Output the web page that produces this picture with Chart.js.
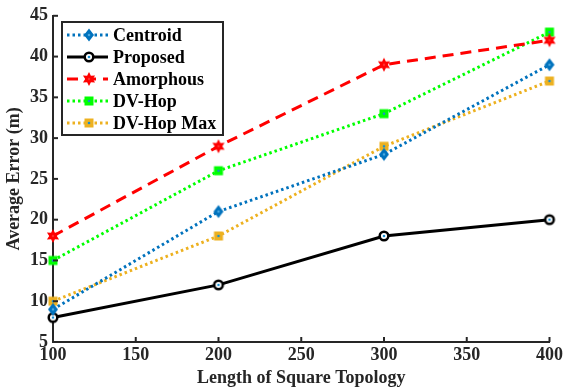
<!DOCTYPE html>
<html><head><meta charset="utf-8">
<script src="https://cdn.jsdelivr.net/npm/chart.js@4"></script>
<style>html,body{margin:0;padding:0;background:#fff}#wrap{width:566px;height:389px}</style>
</head><body><div id="wrap"><canvas id="c" width="566" height="389"></canvas></div>
<script>
const topology = [100, 200, 300, 400];
const centroid = [9, 21, 28, 39];
const proposed = [8, 12, 18, 20];
const amorphous = [18, 29, 39, 42];
const dvHop = [15, 26, 33, 43];
const dvHopMax = [10, 18, 29, 37];
const seriesNames = ['Centroid', 'Proposed', 'Amorphous', 'DV-Hop', 'DV-Hop Max'];
const xTitle = 'Length of Square Topology';
const yTitle = 'Average Error (m)';

const FONT = '"Liberation Serif", "Times New Roman", serif';
const DOT = '#1a8fd0';

function mk(size, draw) {
  const c = document.createElement('canvas');
  c.width = size; c.height = size;
  const g = c.getContext('2d');
  draw(g, size / 2);
  return c;
}
function dot(g, m) { g.fillStyle = DOT; g.beginPath(); g.arc(m, m, 1.3, 0, Math.PI * 2); g.fill(); }
const mDiamond = mk(16, (g, m) => {
  g.fillStyle = '#0072BD'; g.beginPath();
  g.moveTo(m, m - 6.5); g.lineTo(m + 5, m); g.lineTo(m, m + 6.5); g.lineTo(m - 5, m); g.closePath(); g.fill();
  g.fillStyle = '#4aa8e0'; g.beginPath(); g.arc(m, m, 1.3, 0, Math.PI * 2); g.fill();
});
const mCircle = mk(14, (g, m) => {
  g.fillStyle = '#fff'; g.strokeStyle = '#000'; g.lineWidth = 2.5;
  g.beginPath(); g.arc(m, m, 4.3, 0, Math.PI * 2); g.fill(); g.stroke(); dot(g, m);
});
const mStar = mk(18, (g, m) => {
  g.fillStyle = '#FF0000'; g.beginPath();
  for (let i = 0; i < 12; i++) {
    const r = i % 2 === 0 ? 7 : 3.8;
    const a = -Math.PI / 2 + i * Math.PI / 6;
    const x = m + r * Math.cos(a), y = m + r * Math.sin(a);
    i === 0 ? g.moveTo(x, y) : g.lineTo(x, y);
  }
  g.closePath(); g.fill();
  g.fillStyle = '#ff3030'; g.beginPath(); g.arc(m, m, 1.2, 0, Math.PI * 2); g.fill();
});
const mSqG = mk(14, (g, m) => { g.fillStyle = '#00FF00'; g.fillRect(m - 4.5, m - 4.5, 9, 9); dot(g, m); });
const mSqO = mk(14, (g, m) => { g.fillStyle = '#EDB120'; g.fillRect(m - 4.5, m - 4.5, 9, 9); dot(g, m); });

const styles = [
  { color: '#0072BD', dash: [2.5, 3], width: 3, marker: mDiamond },
  { color: '#000000', dash: [], width: 3, marker: mCircle },
  { color: '#FF0000', dash: [11, 7], width: 3, marker: mStar },
  { color: '#00FF00', dash: [2.5, 3], width: 3, marker: mSqG },
  { color: '#EDB120', dash: [2.5, 3], width: 3, marker: mSqO },
];
const values = [centroid, proposed, amorphous, dvHop, dvHopMax];

const datasets = values.map((v, i) => ({
  label: seriesNames[i],
  data: v.map((y, j) => ({ x: topology[j], y })),
  borderColor: styles[i].color,
  borderWidth: styles[i].width,
  borderDash: styles[i].dash,
  borderCapStyle: 'butt',
  pointStyle: styles[i].marker,
  pointRadius: 6,
  fill: false,
  tension: 0,
  clip: false,
}));

const inwardTicks = {
  id: 'inwardTicks',
  afterDraw(chart) {
    const ctx = chart.ctx, xs = chart.scales.x, ys = chart.scales.y, a = chart.chartArea;
    ctx.save(); ctx.strokeStyle = '#262626'; ctx.lineWidth = 2;
    xs.ticks.forEach(t => { const p = xs.getPixelForValue(t.value); ctx.beginPath(); ctx.moveTo(p, a.bottom); ctx.lineTo(p, a.bottom - 5); ctx.stroke(); });
    ys.ticks.forEach(t => { const p = ys.getPixelForValue(t.value); ctx.beginPath(); ctx.moveTo(a.left, p); ctx.lineTo(a.left + 5, p); ctx.stroke(); });
    ctx.restore();
  }
};

const customLegend = {
  id: 'customLegend',
  afterDraw(chart) {
    const ctx = chart.ctx;
    const bx = 62, by = 22, bw = 161, bh = 113;
    ctx.save();
    ctx.fillStyle = '#fff'; ctx.fillRect(bx, by, bw, bh);
    ctx.strokeStyle = '#262626'; ctx.lineWidth = 2; ctx.strokeRect(bx, by, bw, bh);
    chart.data.datasets.forEach((ds, i) => {
      const y = 35 + i * 22;
      ctx.strokeStyle = ds.borderColor; ctx.lineWidth = ds.borderWidth;
      ctx.setLineDash(ds.borderDash); ctx.beginPath(); ctx.moveTo(67, y); ctx.lineTo(108, y); ctx.stroke();
      ctx.setLineDash([]);
      const img = ds.pointStyle;
      ctx.drawImage(img, 89 - img.width / 2, y - img.height / 2);
      ctx.fillStyle = '#000'; ctx.font = 'bold 18px ' + FONT; ctx.textBaseline = 'middle'; ctx.textAlign = 'left';
      ctx.fillText(ds.label, 113, y + 1);
    });
    ctx.restore();
  }
};

new Chart(document.getElementById('c'), {
  type: 'line',
  data: { datasets },
  options: {
    responsive: false, animation: false, devicePixelRatio: 1,
    layout: { padding: { top: 15, right: 16, left: 0, bottom: 0 } },
    plugins: { legend: { display: false }, tooltip: { enabled: false } },
    scales: {
      x: {
        type: 'linear', min: 100, max: 400,
        ticks: { stepSize: 50, color: '#262626', font: { family: FONT, size: 18, weight: 'bold' }, padding: 3, maxRotation: 0 },
        grid: { display: false, drawTicks: false },
        border: { display: true, color: '#262626', width: 2 },
        title: { display: true, text: xTitle, color: '#262626', font: { family: FONT, size: 18, weight: 'bold' }, padding: { top: 0, bottom: 0 } },
        afterFit(s) { s.height = 47; }
      },
      y: {
        type: 'linear', min: 5, max: 45,
        ticks: { stepSize: 5, color: '#262626', font: { family: FONT, size: 18, weight: 'bold' }, padding: 5 },
        grid: { display: false, drawTicks: false },
        border: { display: true, color: '#262626', width: 2 },
        title: { display: true, text: yTitle, color: '#262626', font: { family: FONT, size: 18, weight: 'bold' }, padding: { top: 4, bottom: 0 } },
        afterFit(s) { s.width = 53; }
      }
    }
  },
  plugins: [inwardTicks, customLegend]
});
</script>
</body></html>
